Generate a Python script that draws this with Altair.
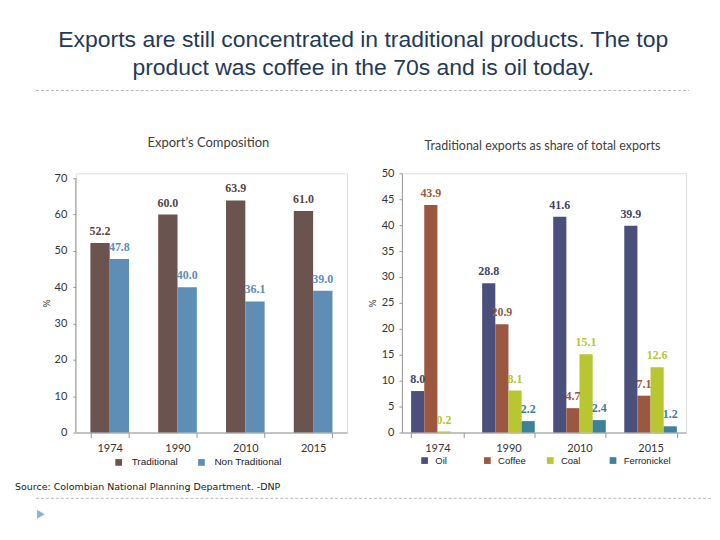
import altair as alt
import pandas as pd

# ---------------- data ----------------
years = ["1974", "1990", "2010", "2015"]

comp_series = ["Traditional", "Non Traditional"]
traditional = [52.2, 60.0, 63.9, 61.0]
non_traditional = [47.8, 40.0, 36.1, 39.0]

prod_series = ["Oil", "Coffee", "Coal", "Ferronickel"]
oil = [8.0, 28.8, 41.6, 39.9]
coffee = [43.9, 20.9, 4.7, 7.1]
coal = [0.2, 8.1, 15.1, 12.6]
ferronickel = [None, 2.2, 2.4, 1.2]

left_ticks = [0, 10, 20, 30, 40, 50, 60, 70]
right_ticks = [0, 5, 10, 15, 20, 25, 30, 35, 40, 45, 50]

title_lines = ["Exports are still concentrated in traditional products. The top",
               "product was coffee in the 70s and is oil today."]
left_title = "Export\u2019s Composition"
right_title = "Traditional exports as share of total exports"
source_text = "Source: Colombian National Planning Department. -DNP"

# ---------------- styles ----------------
comp_colors = ["#6B5450", "#5E8DB6"]
comp_label_colors = ["#574545", "#5E8DB6"]
prod_colors = ["#4A4F7C", "#9B573F", "#B7C631", "#3D8299"]
prod_label_colors = ["#3F4468", "#9B573F", "#B7C631", "#3D7E97"]

lw, rw, h = 272, 285, 260
left_max = 70 * 260 / 255  # left axis: 70 sits a little below the top

rows = []
for s, vals in zip(comp_series, [traditional, non_traditional]):
    for y, v in zip(years, vals):
        rows.append({"year": y, "series": s, "value": v})
comp_df = pd.DataFrame(rows)

rows = []
for s, vals in zip(prod_series, [oil, coffee, coal, ferronickel]):
    for y, v in zip(years, vals):
        if v is not None:
            rows.append({"year": y, "series": s, "value": v})
prod_df = pd.DataFrame(rows)

decor = pd.DataFrame({"k": [0]})

axis_common = dict(labelFont="Lato", labelFontSize=11, labelColor="#333333",
                   domainColor="#999999", tickColor="#999999", grid=False)


def x_enc(pin):
    return alt.X("year:N", sort=years,
                 scale=alt.Scale(type="band", paddingInner=pin, paddingOuter=pin / 2),
                 axis=alt.Axis(title=None, labelAngle=0, tickBand="extent",
                               tickSize=5, labelPadding=5, **axis_common))


def xo_enc(series):
    return alt.XOffset("series:N", sort=series,
                       scale=alt.Scale(type="band", domain=series,
                                       paddingInner=0, paddingOuter=0))


def y_axis(ticks, lpad, tpad, domain=True):
    return alt.Axis(title="%", values=ticks, tickSize=3, labelPadding=lpad,
                    titleFont="DejaVu Sans", titleFontSize=9,
                    titleFontWeight="normal", titleColor="#333333",
                    titlePadding=tpad, domain=domain, labelOverlap=False, **axis_common)


label_style = dict(font="Liberation Serif", fontWeight="bold", fontSize=12,
                   baseline="middle", dy=-12)
dash = dict(strokeDash=[3, 2], color="#BBBBBB", strokeWidth=1)

# ---------------- left chart ----------------
lbase = alt.Chart(comp_df)
l_x = x_enc(0.43)
l_xo = xo_enc(comp_series)
l_scale = alt.Scale(domain=[0, left_max], nice=False)
l_axis = y_axis(left_ticks, 6, 3, domain=False)
l_y = alt.Y("value:Q", scale=l_scale, axis=l_axis)

l_bars = lbase.mark_bar().encode(
    x=l_x, xOffset=l_xo, y=l_y,
    color=alt.Color("series:N", scale=alt.Scale(domain=comp_series, range=comp_colors),
                    legend=alt.Legend(orient="none", legendX=38, legendY=285,
                                      direction="horizontal", title=None,
                                      symbolType="square", symbolSize=45,
                                      symbolStrokeWidth=0,
                                      labelFont="Liberation Sans", labelFontSize=10,
                                      labelColor="#222222", labelOffset=8,
                                      columnPadding=18)))
l_text = lbase.mark_text(**label_style).encode(
    x=l_x, xOffset=l_xo, y=l_y,
    text=alt.Text("value:Q", format=".1f"),
    color=alt.Color("series:N", scale=alt.Scale(domain=comp_series, range=comp_label_colors),
                    legend=None))
# left axis line drawn from 0 to 70 only
l_axis_line = alt.Chart(decor).mark_rule(color="#999999").encode(
    x=alt.value(0),
    y=alt.YDatum(left_ticks[0], type="quantitative", scale=l_scale, axis=l_axis),
    y2=alt.Y2Datum(left_ticks[-1]))

l_top_line = alt.Chart(decor).mark_rule(**dash).encode(
    x=alt.value(-40), x2=alt.value(lw), y=alt.value(-83))
l_bot_line = alt.Chart(decor).mark_rule(**dash).encode(
    x=alt.value(-40), x2=alt.value(lw), y=alt.value(326))
l_sub = alt.Chart(decor).mark_text(font="Lato", fontSize=13, color="#404040",
                                   baseline="middle").encode(
    x=alt.value(133), y=alt.value(-30), text=alt.value(left_title))
l_src = alt.Chart(decor).mark_text(font="DejaVu Sans", fontSize=9.5, color="#222222",
                                   align="left", baseline="middle").encode(
    x=alt.value(-61), y=alt.value(315), text=alt.value(source_text))
l_tri = alt.Chart(decor).mark_point(shape="triangle-right", filled=True, size=80,
                                    color="#8DB3DA", opacity=1).encode(
    x=alt.value(-35), y=alt.value(342))

left = alt.layer(l_bars, l_text, l_axis_line, l_top_line, l_bot_line, l_sub, l_src,
                 l_tri).resolve_scale(color="independent").properties(width=lw, height=h)

# ---------------- right chart ----------------
rbase = alt.Chart(prod_df)
r_x = x_enc(0.26)
r_xo = xo_enc(prod_series)
r_y = alt.Y("value:Q", scale=alt.Scale(domain=[0, 50], nice=False),
            axis=y_axis(right_ticks, 5, 4))

r_bars = rbase.mark_bar().encode(
    x=r_x, xOffset=r_xo, y=r_y,
    color=alt.Color("series:N", scale=alt.Scale(domain=prod_series, range=prod_colors),
                    legend=alt.Legend(orient="none", legendX=18, legendY=283,
                                      direction="horizontal", title=None,
                                      symbolType="square", symbolSize=45,
                                      symbolStrokeWidth=0, gridAlign="all",
                                      labelFont="Liberation Sans", labelFontSize=9.5,
                                      labelColor="#222222", labelOffset=6,
                                      columnPadding=0)))
r_text = rbase.mark_text(**label_style).encode(
    x=r_x, xOffset=r_xo, y=r_y,
    text=alt.Text("value:Q", format=".1f"),
    color=alt.Color("series:N", scale=alt.Scale(domain=prod_series, range=prod_label_colors),
                    legend=None))
r_top_line = alt.Chart(decor).mark_rule(**dash).encode(
    x=alt.value(-53), x2=alt.value(288), y=alt.value(-83))
r_bot_line = alt.Chart(decor).mark_rule(**dash).encode(
    x=alt.value(-53), x2=alt.value(310), y=alt.value(326))
r_sub = alt.Chart(decor).mark_text(font="Lato", fontSize=12.5, color="#404040",
                                   baseline="middle").encode(
    x=alt.value(141), y=alt.value(-27), text=alt.value(right_title))

right = alt.layer(r_bars, r_text, r_top_line, r_bot_line, r_sub).resolve_scale(
    color="independent").properties(width=rw, height=h)

chart = alt.hconcat(left, right, spacing=0).resolve_scale(
    color="independent", xOffset="independent").properties(
    title=alt.TitleParams(title_lines, font="Liberation Sans", fontSize=23,
                          fontWeight="normal", color="#1F3A57", lineHeight=28,
                          anchor="middle", offset=10),
    padding={"left": 6, "top": 20, "right": 0, "bottom": 0},
).configure_view(stroke=None).configure(background="white")

chart.save("out.html", embed_options={"renderer": "svg", "actions": False})
